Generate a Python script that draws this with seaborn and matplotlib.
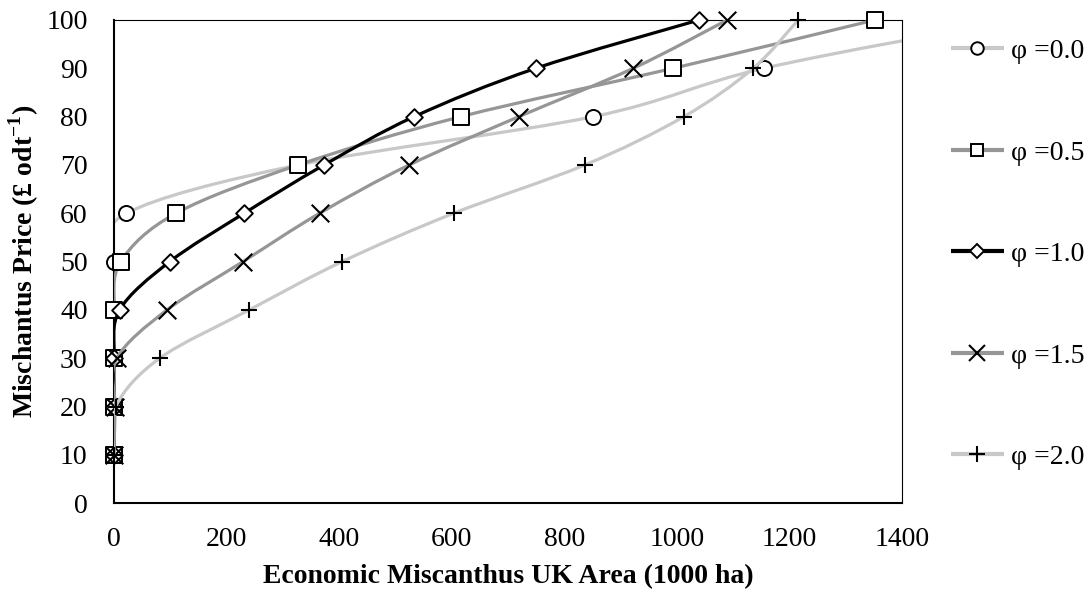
import numpy as np
import pandas as pd
import matplotlib
matplotlib.use("Agg")
import matplotlib.pyplot as plt
from matplotlib.path import Path
from matplotlib.patches import PathPatch
from matplotlib.lines import Line2D
import seaborn as sns

# ---- data ----
price = [10, 20, 30, 40, 50, 60, 70, 80, 90, 100]
phi_labels = ["φ =0.0", "φ =0.5", "φ =1.0", "φ =1.5", "φ =2.0"]
area_phi00 = [0, 0, 0, 0, 0, 22, 327, 851, 1154, 1600]
area_phi05 = [0, 0, 0, 0, 12, 110, 327, 616, 993, 1351]
area_phi10 = [0, 0, 0, 10, 99, 231, 373, 533, 749, 1039]
area_phi15 = [0, 2, 5, 94, 229, 365, 524, 719, 922, 1089]
area_phi20 = [0, 3, 81, 240, 405, 603, 836, 1012, 1135, 1215]
x_ticks = [0, 200, 400, 600, 800, 1000, 1200, 1400]
y_ticks = [0, 10, 20, 30, 40, 50, 60, 70, 80, 90, 100]

series = [area_phi00, area_phi05, area_phi10, area_phi15, area_phi20]
line_colors = ["#c8c8c8", "#969696", "#000000", "#969696", "#c8c8c8"]
markers = ["o", "s", "D", "x", "+"]
msizes = [117, 117, 72, 160, 130]
filled = [True, True, True, False, False]

sns.set_theme(style="white")
plt.rcParams["font.family"] = ["Liberation Serif", "DejaVu Serif"]
plt.rcParams["mathtext.fontset"] = "custom"
plt.rcParams["mathtext.rm"] = "Liberation Serif"
plt.rcParams["mathtext.bf"] = "Liberation Serif:bold"
plt.rcParams["text.color"] = "black"
plt.rcParams["axes.labelcolor"] = "black"

fig = plt.figure(figsize=(10.91, 5.95), dpi=100)
ax = fig.add_axes([114 / 1091, 1 - 503.3 / 595, (902.3 - 114) / 1091, (503.3 - 20) / 595])


def smooth_path(xs, ys):
    pts = np.column_stack([xs, ys]).astype(float)
    n = len(pts)
    verts = [pts[0]]
    codes = [Path.MOVETO]
    for i in range(n - 1):
        p0 = pts[i - 1] if i > 0 else pts[i]
        p1 = pts[i]
        p2 = pts[i + 1]
        p3 = pts[i + 2] if i + 2 < n else pts[i + 1]
        c1 = p1 + (p2 - p0) / 6.0
        c2 = p2 - (p3 - p1) / 6.0
        verts += [c1, c2, p2]
        codes += [Path.CURVE4] * 3
    return Path(verts, codes)


for i, (xs, col, mk, ms, fl, lab) in enumerate(zip(series, line_colors, markers, msizes, filled, phi_labels)):
    patch = PathPatch(smooth_path(xs, price), facecolor="none", edgecolor=col,
                      lw=2.3, zorder=2 + 2 * i, capstyle="round", joinstyle="round")
    ax.add_patch(patch)
    df = pd.DataFrame({"area": xs, "price": price})
    df = df[df["area"] <= 1400]
    if fl:
        sns.scatterplot(data=df, x="area", y="price", marker=mk, s=ms, color="white",
                        edgecolor="black", linewidth=1.4, ax=ax, zorder=3 + 2 * i,
                        clip_on=False, legend=False)
    else:
        sns.scatterplot(data=df, x="area", y="price", marker=mk, s=ms, color="black",
                        linewidth=1.5, ax=ax, zorder=3 + 2 * i, clip_on=False, legend=False)

ax.set_xlim(0, 1400)
ax.set_ylim(0, 100)
ax.set_xticks(x_ticks)
ax.set_yticks(y_ticks)
ax.tick_params(axis="both", direction="in", length=6, width=1, color="black",
               labelsize=20, pad=19, labelcolor="black")
ax.tick_params(axis="x", pad=17)
for s in ["left", "bottom"]:
    ax.spines[s].set_linewidth(1.5)
    ax.spines[s].set_color("black")
for s in ["top", "right"]:
    ax.spines[s].set_linewidth(0.8)
    ax.spines[s].set_color("black")
ax.grid(False)

ax.set_xlabel("Economic Miscanthus UK Area (1000 ha)", fontsize=20, fontweight="bold",
              labelpad=9, color="black")
ax.set_ylabel(r"Mischantus Price (£ odt$^{\mathbf{-1}}$)", fontsize=20, fontweight="bold",
              labelpad=4, color="black")

handles = []
for col, mk, fl in zip(line_colors, markers, filled):
    if fl:
        h = Line2D([], [], color=col, lw=3, marker=mk, markersize=9 if mk != "D" else 7,
                   markerfacecolor="white", markeredgecolor="black", markeredgewidth=1.4,
                   solid_capstyle="butt")
    else:
        h = Line2D([], [], color=col, lw=3, marker=mk, markersize=11,
                   markeredgecolor="black", markeredgewidth=1.5, solid_capstyle="butt")
    handles.append(h)

fig.legend(handles, phi_labels, loc="upper left", bbox_to_anchor=(951 / 1091, 1 - 38.5 / 595),
           frameon=False, fontsize=20, handlelength=1.9, handletextpad=0.25,
           labelspacing=2.74, borderpad=0, borderaxespad=0, labelcolor="black")

fig.savefig("out.png", dpi=100)
